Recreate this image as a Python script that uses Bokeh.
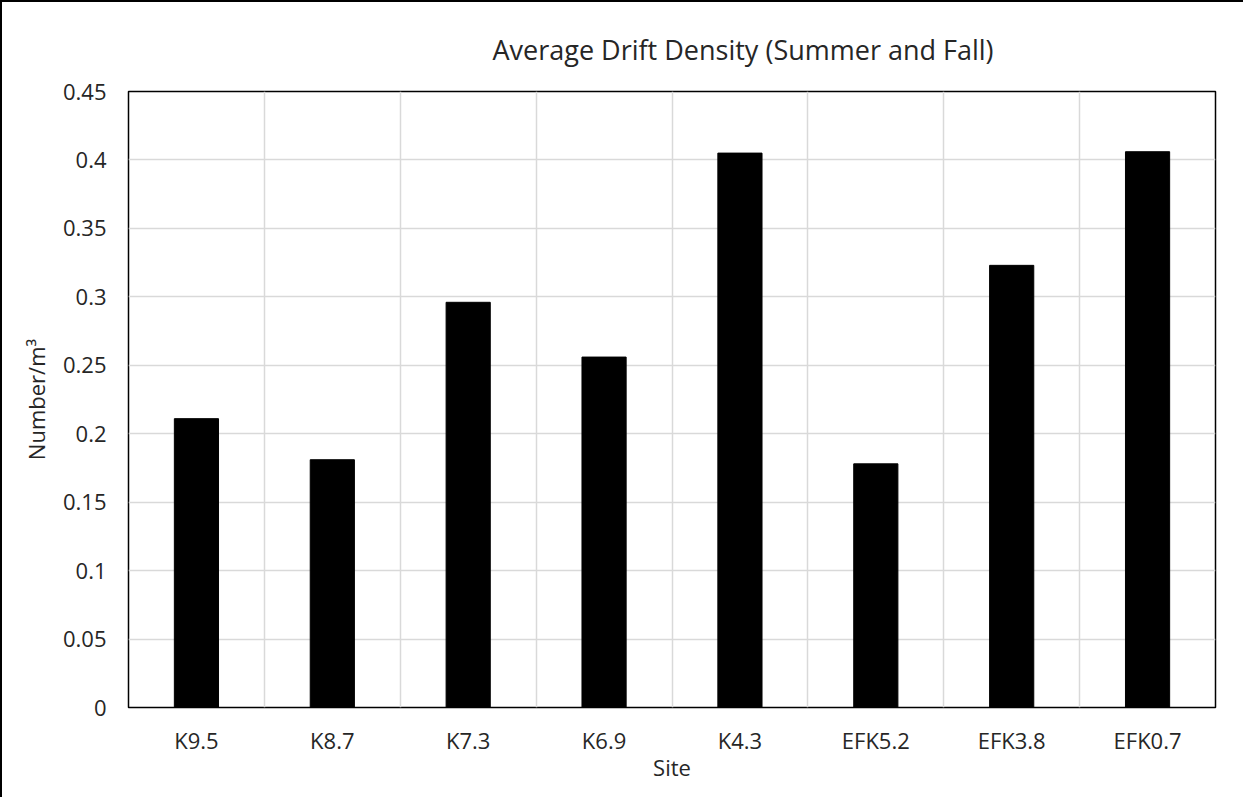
from bokeh.plotting import figure
from bokeh.models import FactorRange, Range1d, FixedTicker, Title, ColumnDataSource
from bokeh.embed import file_html
from bokeh.resources import INLINE

sites = ["K9.5", "K8.7", "K7.3", "K6.9", "K4.3", "EFK5.2", "EFK3.8", "EFK0.7"]
density = [0.211, 0.181, 0.296, 0.256, 0.405, 0.178, 0.323, 0.406]
y_ticks = [0, 0.05, 0.1, 0.15, 0.2, 0.25, 0.3, 0.35, 0.4, 0.45]
y_tick_labels = ["0", "0.05", "0.1", "0.15", "0.2", "0.25", "0.3", "0.35", "0.4", "0.45"]

FONT = "Open Sans"

src = ColumnDataSource(data=dict(site=sites, density=density))

p = figure(
    x_range=FactorRange(factors=sites, range_padding=0),
    y_range=Range1d(0, 0.45),
    width=1243, height=797,
    output_backend="svg", toolbar_location=None,
    min_border_left=126, min_border_right=30, min_border_top=89, min_border_bottom=92,
)
p.vbar(x="site", top="density", width=0.325, source=src, fill_color="black", line_color="black")

t = Title(text="Average Drift Density (Summer and Fall)", align="left", offset=364,
          text_font=FONT, text_font_size="27px", text_font_style="normal",
          text_color="#262626", standoff=47)
p.add_layout(t, "above")

p.outline_line_color = "black"
p.outline_line_width = 1.5

p.yaxis.ticker = FixedTicker(ticks=y_ticks)
p.yaxis.major_label_overrides = {v: s for v, s in zip(y_ticks, y_tick_labels)}
p.xgrid.ticker = FixedTicker(ticks=list(range(1, len(sites))))
p.ygrid.ticker = FixedTicker(ticks=y_ticks)
for g in (p.xgrid, p.ygrid):
    g.grid_line_color = "#d9d9d9"
    g.grid_line_width = 1.5

for ax in (p.xaxis, p.yaxis):
    ax.axis_line_color = None
    ax.major_tick_line_color = None
    ax.minor_tick_line_color = None
    ax.major_tick_out = 0
    ax.major_tick_in = 0
    ax.major_label_text_font = FONT
    ax.major_label_text_font_size = "22px"
    ax.major_label_text_color = "#262626"
    ax.axis_label_text_font = FONT
    ax.axis_label_text_font_size = "22px"
    ax.axis_label_text_font_style = "normal"
    ax.axis_label_text_color = "#262626"

p.xaxis.group_text_font_size = "0px"
p.yaxis.major_label_standoff = 22
p.xaxis.major_label_standoff = 17
p.xaxis.axis_label = "Site"
p.xaxis.axis_label_standoff = -6
p.yaxis.axis_label = "Number/m³"
p.yaxis.axis_label_standoff = 9

p.styles = {"border-left": "2px solid black", "border-top": "2px solid black"}

open("out.html", "w").write(file_html(p, INLINE))
